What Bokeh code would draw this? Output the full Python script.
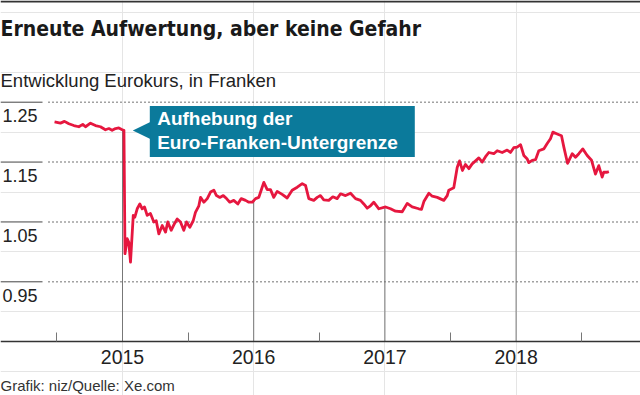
import numpy as np
from bokeh.plotting import figure
from bokeh.models import Range1d, LinearAxis, FixedTicker, NumeralTickFormatter
from bokeh.core.properties import value
from bokeh.embed import file_html
from bokeh.resources import INLINE

# ---------------- data ----------------
# time in decimal years, EUR/CHF rate
years = [
    2014.482, 2014.527, 2014.558, 2014.591, 2014.629, 2014.667, 2014.697, 2014.718, 2014.756, 2014.794,
    2014.832, 2014.870, 2014.896, 2014.921, 2014.947, 2014.972, 2014.998, 2015.011, 2015.019, 2015.036,
    2015.048, 2015.061, 2015.082, 2015.094, 2015.112, 2015.132, 2015.150, 2015.168, 2015.188, 2015.213,
    2015.239, 2015.257, 2015.277, 2015.303, 2015.328, 2015.345, 2015.371, 2015.396, 2015.417, 2015.442,
    2015.467, 2015.488, 2015.513, 2015.539, 2015.556, 2015.582, 2015.595, 2015.620, 2015.646, 2015.671,
    2015.696, 2015.716, 2015.742, 2015.768, 2015.793, 2015.818, 2015.848, 2015.879, 2015.905, 2015.938,
    2015.963, 2015.989, 2016.014, 2016.039, 2016.057, 2016.077, 2016.103, 2016.128, 2016.153, 2016.179,
    2016.217, 2016.255, 2016.293, 2016.332, 2016.370, 2016.395, 2016.420, 2016.458, 2016.484, 2016.509,
    2016.534, 2016.572, 2016.603, 2016.636, 2016.662, 2016.700, 2016.738, 2016.776, 2016.814, 2016.839,
    2016.865, 2016.890, 2016.915, 2016.954, 2017.005, 2017.043, 2017.081, 2017.132, 2017.170, 2017.208,
    2017.258, 2017.279, 2017.297, 2017.335, 2017.361, 2017.399, 2017.449, 2017.475, 2017.487, 2017.525,
    2017.551, 2017.569, 2017.591, 2017.614, 2017.640, 2017.665, 2017.691, 2017.716, 2017.742, 2017.767,
    2017.792, 2017.830, 2017.856, 2017.894, 2017.932, 2017.957, 2017.982, 2018.008, 2018.034, 2018.059,
    2018.085, 2018.097, 2018.123, 2018.148, 2018.173, 2018.211, 2018.237, 2018.262, 2018.280, 2018.313,
    2018.346, 2018.364, 2018.392, 2018.428, 2018.453, 2018.478, 2018.508, 2018.542, 2018.575, 2018.605,
    2018.630, 2018.656, 2018.668, 2018.694, 2018.707,
]
rate = [
    1.217, 1.215, 1.218, 1.214, 1.211, 1.209, 1.213, 1.209, 1.215, 1.211,
    1.209, 1.204, 1.206, 1.203, 1.206, 1.207, 1.204, 1.203, 0.997, 1.022,
    1.016, 0.983, 1.061, 1.058, 1.072, 1.080, 1.072, 1.075, 1.061, 1.064,
    1.050, 1.052, 1.030, 1.044, 1.033, 1.050, 1.036, 1.047, 1.055, 1.050,
    1.036, 1.050, 1.041, 1.052, 1.066, 1.077, 1.091, 1.083, 1.089, 1.100,
    1.103, 1.094, 1.091, 1.094, 1.089, 1.083, 1.086, 1.080, 1.089, 1.086,
    1.083, 1.083, 1.089, 1.091, 1.103, 1.116, 1.104, 1.104, 1.091, 1.101,
    1.096, 1.090, 1.103, 1.108, 1.114, 1.111, 1.089, 1.086, 1.091, 1.094,
    1.087, 1.086, 1.092, 1.089, 1.097, 1.094, 1.098, 1.089, 1.086, 1.080,
    1.073, 1.077, 1.083, 1.072, 1.075, 1.072, 1.068, 1.067, 1.081, 1.075,
    1.072, 1.071, 1.084, 1.098, 1.093, 1.091, 1.086, 1.094, 1.103, 1.107,
    1.141, 1.152, 1.136, 1.146, 1.139, 1.147, 1.152, 1.157, 1.150, 1.159,
    1.166, 1.164, 1.169, 1.166, 1.170, 1.166, 1.174, 1.175, 1.179, 1.161,
    1.155, 1.149, 1.153, 1.154, 1.169, 1.172, 1.181, 1.189, 1.200, 1.197,
    1.194, 1.175, 1.148, 1.164, 1.158, 1.164, 1.172, 1.161, 1.153, 1.130,
    1.144, 1.125, 1.133, 1.133, 1.134,
]
y_ticks = [1.25, 1.15, 1.05, 0.95]
y_tick_labels = ["1.25", "1.15", "1.05", "0.95"]
year_ticks = [2015, 2016, 2017, 2018]
half_year_ticks = [2014.5, 2015.5, 2016.5, 2017.5, 2018.5]

title_text = "Erneute Aufwertung, aber keine Gefahr"
subtitle_text = "Entwicklung Eurokurs, in Franken"
source_text = "Grafik: niz/Quelle: Xe.com"
note_lines = ["Aufhebung der", "Euro-Franken-Untergrenze"]
note_year, note_rate = 2015.0785, 1.2027   # point the callout arrow touches

# ---------------- layout (pixels from the top-left of the canvas) ----------------
W, H = 640, 395
PX_PER_YEAR = 131.2
PX_PER_UNIT = 598.7
X0 = 2015 - 122 / PX_PER_YEAR
X1 = X0 + W / PX_PER_YEAR
YT = 1.25 + 101.7 / PX_PER_UNIT
YB = YT - H / PX_PER_UNIT


def fx(px):
    return X0 + px / PX_PER_YEAR


def fy(py):
    return YT - py / PX_PER_UNIT


AXIS_Y = fy(341)

SANS = value("Liberation Sans")
COND = value("DejaVu Sans Condensed")
RED = "#e6173f"
TEAL = "#0b7a9b"

p = figure(frame_width=W, frame_height=H, x_range=Range1d(X0, X1), y_range=Range1d(YB, YT),
           output_backend="svg", toolbar_location=None, title=None,
           x_axis_location=None, y_axis_location=None,
           min_border=0, min_border_left=0, min_border_right=0,
           min_border_top=0, min_border_bottom=0)
p.outline_line_color = None
p.background_fill_color = "white"
p.border_fill_color = "white"

# top rule
p.segment(x0=[fx(0)], y0=[fy(1)], x1=[fx(W)], y1=[fy(1)], line_color="#333333", line_width=2)

# titles (anchored at the middle of the capitals)
p.text(x=[fx(0)], y=[fy(28)], text=[title_text], text_font=COND, text_font_style="bold",
       text_font_size="21px", text_color="#1a1a1a", text_baseline="middle", text_align="left")
p.text(x=[fx(0)], y=[fy(80)], text=[subtitle_text], text_font=SANS,
       text_font_size="18.5px", text_color="#222222", text_baseline="middle", text_align="left")

# horizontal grid: short solid piece + dotted rest
n = len(y_ticks)
p.segment(x0=[fx(0)] * n, y0=y_ticks, x1=[fx(42)] * n, y1=y_ticks, line_color="#444444", line_width=1)
p.segment(x0=[fx(48)] * n, y0=y_ticks, x1=[fx(W)] * n, y1=y_ticks, line_color="#444444",
          line_width=1.5, line_dash="1 3")
p.text(x=[fx(37)] * n, y=y_ticks, text=y_tick_labels, y_offset=13.5, text_font=SANS,
       text_font_size="18px", text_color="#222222", text_align="right", text_baseline="middle")

# year drop lines from the curve to the axis
tops = np.interp(year_ticks, years, rate)
p.segment(x0=year_ticks, y0=[AXIS_Y] * len(year_ticks), x1=year_ticks, y1=list(tops),
          line_color="#777777", line_width=1)

# data line
p.line(years, rate, line_color=RED, line_width=2.8, line_join="round")

# callout
tip_px = (note_year - X0) * PX_PER_YEAR
tip_py = (YT - note_rate) * PX_PER_UNIT
bl, br = tip_px + 17, tip_px + 282
bt, bb = tip_py - 24.5, tip_py + 26.5
p.quad(left=[fx(bl)], right=[fx(br)], top=[fy(bt)], bottom=[fy(bb)], fill_color=TEAL, line_color=None)
p.patch(x=[fx(tip_px), fx(bl + 0.5), fx(bl + 0.5)], y=[fy(tip_py), fy(tip_py - 8.5), fy(tip_py + 8.5)],
        fill_color=TEAL, line_color=None)
p.text(x=[fx(tip_px + 24.4)] * 2, y=[fy(tip_py - 11.8), fy(tip_py + 12.3)], text=note_lines,
       text_font=SANS, text_font_style="bold", text_font_size="19px", text_color="white",
       text_baseline="middle", text_align="left")

# x axis
xaxis = LinearAxis(ticker=FixedTicker(ticks=year_ticks, minor_ticks=half_year_ticks),
                   formatter=NumeralTickFormatter(format="0"), fixed_location=AXIS_Y)
xaxis.axis_line_color = "#333333"
xaxis.axis_line_width = 1.6
xaxis.major_tick_in = 0
xaxis.major_tick_out = 0
xaxis.minor_tick_in = 9
xaxis.minor_tick_out = 0
xaxis.minor_tick_line_color = "#777777"
xaxis.minor_tick_line_width = 1
xaxis.major_label_standoff = 8
xaxis.major_label_text_font = "Liberation Sans"
xaxis.major_label_text_font_size = "19.5px"
xaxis.major_label_text_color = "#222222"
p.add_layout(xaxis, "below")

# source line
p.text(x=[fx(0)], y=[fy(385)], text=[source_text], text_font=SANS, text_font_size="15px",
       text_color="#333333", text_baseline="middle", text_align="left")

open("out.html", "w").write(file_html(p, INLINE))
